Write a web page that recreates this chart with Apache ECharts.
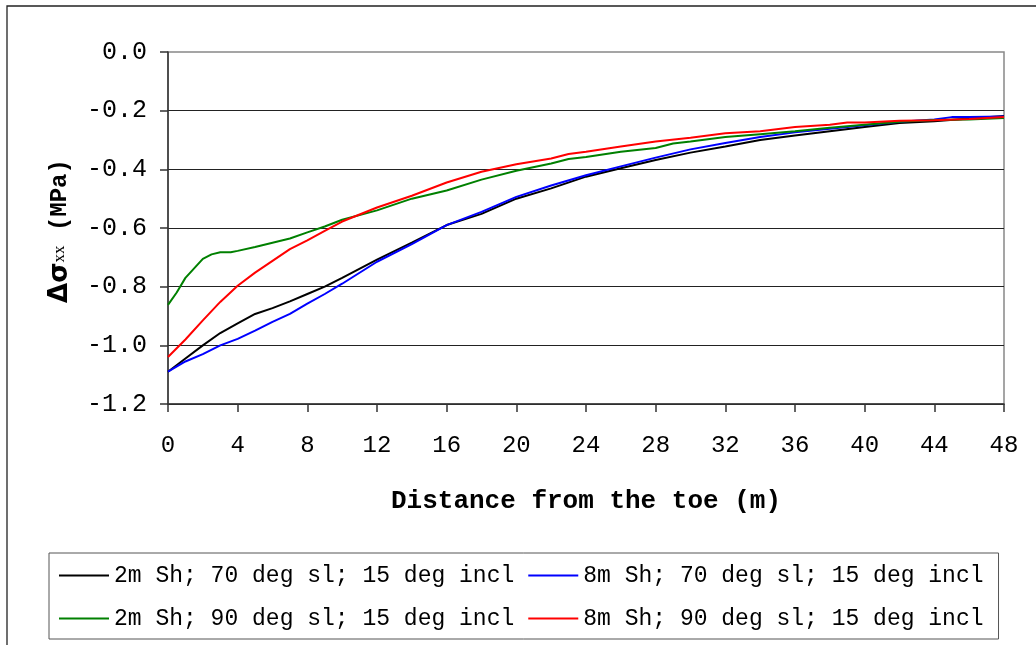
<!DOCTYPE html>
<html>
<head>
<meta charset="utf-8">
<script src="https://cdn.jsdelivr.net/npm/echarts@6/dist/echarts.min.js"></script>
<style>
  html, body { margin: 0; padding: 0; background: #fff; }
  #chart { width: 1036px; height: 645px; }
</style>
</head>
<body>
<div id="chart"></div>
<script>
// Stress change along the slope base for four shear / slope configurations
const seriesNames = [
  '2m Sh; 70 deg sl; 15 deg incl',
  '8m Sh; 70 deg sl; 15 deg incl',
  '2m Sh; 90 deg sl; 15 deg incl',
  '8m Sh; 90 deg sl; 15 deg incl'
];
const seriesColors = ['#000000', '#0000ff', '#008000', '#ff0000'];

// distance from the toe (m) and stress change (MPa) for each case
const dist2m70 = [0, 1, 2, 3, 4, 5, 6, 7, 8, 9, 10, 12, 14, 16, 18, 20, 22, 24, 26, 28, 30, 32, 34, 36, 38, 40, 42, 44, 46, 48];
const sxx2m70 = [-1.09, -1.045, -1.0, -0.958, -0.925, -0.893, -0.873, -0.85, -0.825, -0.8, -0.77, -0.708, -0.65, -0.59, -0.552, -0.5, -0.465, -0.425, -0.396, -0.368, -0.343, -0.322, -0.3, -0.285, -0.27, -0.256, -0.242, -0.236, -0.227, -0.218];

const dist8m70 = [0, 1, 2, 3, 4, 5, 6, 7, 8, 9, 10, 12, 14, 16, 18, 20, 22, 24, 26, 28, 30, 32, 34, 36, 38, 40, 42, 44, 45, 46, 48];
const sxx8m70 = [-1.09, -1.055, -1.03, -1.0, -0.978, -0.95, -0.92, -0.893, -0.858, -0.825, -0.79, -0.715, -0.655, -0.59, -0.545, -0.494, -0.455, -0.42, -0.39, -0.36, -0.332, -0.31, -0.29, -0.274, -0.262, -0.25, -0.238, -0.23, -0.222, -0.222, -0.22];

const dist2m90 = [0, 0.5, 1, 2, 2.5, 3, 3.6, 4, 5, 6, 7, 8, 9, 10, 12, 14, 16, 18, 20, 22, 23, 24, 26, 28, 29, 30, 32, 34, 36, 38, 40, 42, 44, 46, 48];
const sxx2m90 = [-0.862, -0.82, -0.77, -0.705, -0.69, -0.683, -0.683, -0.678, -0.665, -0.65, -0.636, -0.615, -0.595, -0.572, -0.54, -0.5, -0.472, -0.435, -0.405, -0.38, -0.365, -0.358, -0.34, -0.327, -0.312, -0.305, -0.29, -0.28, -0.27, -0.258, -0.248, -0.238, -0.232, -0.23, -0.225];

const dist8m90 = [0, 1, 2, 3, 4, 5, 6, 7, 8, 9, 10, 12, 14, 16, 18, 20, 22, 23, 24, 26, 28, 30, 32, 34, 36, 38, 39, 40, 42, 44, 46, 48];
const sxx8m90 = [-1.04, -0.98, -0.915, -0.852, -0.797, -0.752, -0.712, -0.672, -0.642, -0.61, -0.578, -0.53, -0.49, -0.445, -0.408, -0.383, -0.363, -0.348, -0.34, -0.322, -0.305, -0.292, -0.277, -0.27, -0.256, -0.248, -0.24, -0.24, -0.234, -0.233, -0.228, -0.222];

const distances = [dist2m70, dist8m70, dist2m90, dist8m90];
const stresses = [sxx2m70, sxx8m70, sxx2m90, sxx8m90];

const xAxisTitle = 'Distance from the toe (m)';

const mono = '"Liberation Mono", "Courier New", monospace';

const chart = echarts.init(document.getElementById('chart'), null, { renderer: 'canvas' });

chart.setOption({
  backgroundColor: '#ffffff',
  animation: false,
  grid: {
    left: 168, top: 52, right: 32, bottom: 241,
    show: true, borderColor: '#888888', borderWidth: 1.5, backgroundColor: 'transparent'
  },
  xAxis: {
    type: 'value', min: 0, max: 48, interval: 4,
    name: xAxisTitle, nameLocation: 'middle', nameGap: 84,
    nameTextStyle: { fontFamily: mono, fontSize: 26, fontWeight: 'bold', color: '#000' },
    axisLine: { show: true, onZero: false, lineStyle: { color: '#333', width: 1.5 } },
    axisTick: { show: true, inside: false, length: 8, lineStyle: { color: '#333', width: 1.5 } },
    axisLabel: { margin: 30, fontFamily: mono, fontSize: 24, color: '#000' },
    splitLine: { show: false }
  },
  yAxis: {
    type: 'value', min: -1.2, max: 0, interval: 0.2,
    axisLine: { show: true, onZero: false, lineStyle: { color: '#333', width: 1.5 } },
    axisTick: { show: true, inside: false, length: 8, lineStyle: { color: '#333', width: 1.5 } },
    axisLabel: {
      margin: 21, fontFamily: mono, fontSize: 25, color: '#000',
      formatter: v => (Math.abs(v) < 1e-9 ? 0 : v).toFixed(1)
    },
    splitLine: { show: true, showMaxLine: false, lineStyle: { color: '#222', width: 1 } }
  },
  legend: {
    left: 49, top: 553, width: 935,
    orient: 'horizontal',
    padding: [8, 15, 6, 10],
    itemGap: 14,
    itemWidth: 50, itemHeight: 2, icon: 'rect',
    borderColor: '#555', borderWidth: 1,
    textStyle: { fontFamily: mono, fontSize: 23, color: '#000', lineHeight: 29 },
    data: seriesNames
  },
  graphic: [
    {
      type: 'rect', silent: true, z: -10,
      shape: { x: 7, y: 6, width: 1100, height: 700 },
      style: { fill: 'none', stroke: '#222', lineWidth: 1.3 }
    },
    {
      type: 'text', silent: true,
      x: 60, y: 231, rotation: Math.PI / 2,
      style: {
        text: '{g|Δσ}{s|xx}{m| (MPa)}',
        align: 'center', verticalAlign: 'middle',
        rich: {
          g: { fontFamily: '"DejaVu Sans", sans-serif', fontWeight: 'bold', fontSize: 26, fill: '#000' },
          s: { fontFamily: '"Liberation Serif", serif', fontSize: 17, fill: '#000' },
          m: { fontFamily: mono, fontWeight: 'bold', fontSize: 24, fill: '#000' }
        }
      }
    }
  ],
  series: seriesNames.map((name, k) => ({
    name,
    type: 'line',
    showSymbol: false,
    symbol: 'none',
    lineStyle: { color: seriesColors[k], width: 2 },
    itemStyle: { color: seriesColors[k] },
    data: distances[k].map((d, i) => [d, stresses[k][i]])
  }))
});
</script>
</body>
</html>
